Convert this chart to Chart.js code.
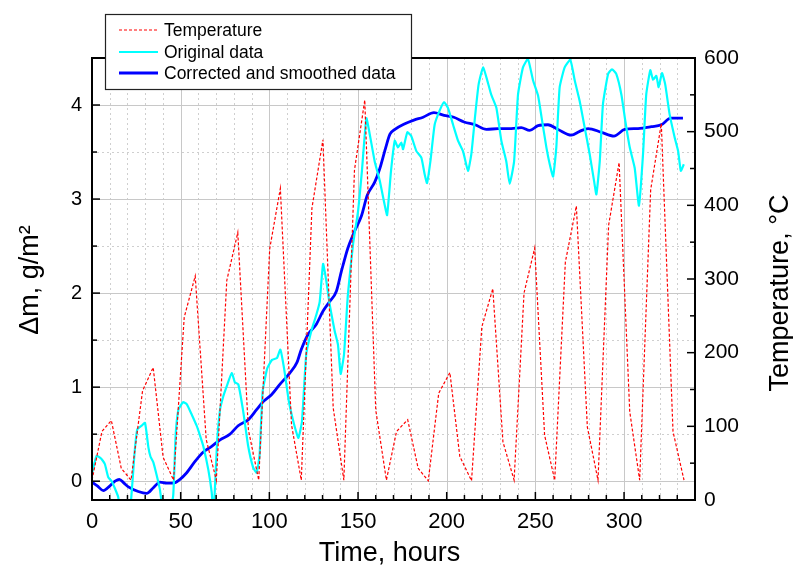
<!DOCTYPE html>
<html><head><meta charset="utf-8">
<script src="https://cdn.jsdelivr.net/npm/chart.js@4.4.0/dist/chart.umd.min.js"></script>
<style>html,body{margin:0;padding:0;background:#fff;}#wrap{width:793px;height:571px;position:relative;}</style>
</head><body><div id="wrap"><canvas id="c" width="793" height="571"></canvas></div>
<script>
// ---- Data ----
const tempTime = [0,5.6,10.9,16.5,22,28.5,34.5,40.1,46,52,58.2,64.4,70.1,76,82.2,88.2,94,100.2,106.2,112.5,118,124,130.2,136,142,148,153.8,160,166,171.7,178,183.9,189.6,195.5,201.8,207.4,214,219.8,226,231.7,238,243.6,249.6,255.2,260.9,266.9,273.1,279.3,285.3,291.3,297.2,303.2,308.8,315,321,327.6,333.8];
const tempC = [27,93,108,43,27,148,180,58,27,248,304,82,27,298,363,95,27,341,423,102,27,396,489,125,27,448,543,122,27,93,109,43,26,145,173,59,26,235,287,79,27,281,342,88,27,323,399,99,27,373,458,120,27,421,511,93,27];

const origTime = [0,1.5,2.6,4.5,6,7.3,9.2,11.1,13,14.8,16.5,20,22,24,25.5,28,29.9,31.8,33,34.6,36.5,38.3,40,44,45.8,47.2,48.7,50.5,51.5,53.4,56.2,59,61,62.8,65.6,67.5,68.2,69,70.5,72.2,74,76,78.8,80.6,82.5,85.2,88,90.8,92.8,94.5,96.2,98.8,101.5,104.3,106.2,108.3,111,114,116.4,118.4,120.8,123.7,126.5,128.4,130.3,132.1,134,136.8,138.7,140.2,142.1,144.3,147.2,150,152.2,154.7,156.6,159.4,162.2,165,166.4,168.6,170.7,172.5,174.4,175.4,177.8,180,182.9,185.7,187.6,188.9,190.8,193.2,196,198.5,200.7,203.6,206.4,209.2,212,213.9,216.1,218,220.5,222.9,225.1,228,230.8,233.6,235.5,238,240.2,243,245.8,248.7,251.5,253.4,256.2,258.1,260,261.8,263.7,266.5,269.7,272.2,275,277.8,280.6,283.1,284.4,286.3,288.1,291,293.2,295.6,298.5,300.7,303.2,306,308.4,310.7,312.5,314.8,316.3,318.2,319.5,321.4,323.2,325.7,328.6,330.5,332,333.7];
const origDm = [0.08,0.2,0.27,0.25,0.22,0.18,0.04,0.0,-0.08,-0.17,-0.4,-0.4,-0.2,0.3,0.55,0.59,0.62,0.36,0.26,0.2,0.06,-0.09,-0.3,-0.3,-0.15,0.5,0.76,0.82,0.84,0.82,0.71,0.59,0.48,0.37,0.12,-0.12,-0.3,-0.2,0.4,0.76,0.9,1.01,1.15,1.05,1.03,0.75,0.38,0.15,0.09,0.28,0.95,1.2,1.29,1.31,1.4,1.2,0.85,0.6,0.46,0.64,1.35,1.6,1.77,1.91,2.31,2.13,1.88,1.6,1.45,1.14,1.35,1.99,2.52,2.87,3.3,3.86,3.69,3.4,3.2,2.94,2.83,3.3,3.62,3.55,3.6,3.53,3.71,3.67,3.51,3.44,3.26,3.17,3.4,3.79,3.94,4.03,3.97,3.79,3.62,3.51,3.3,3.48,3.9,4.22,4.4,4.26,4.11,3.97,3.62,3.4,3.16,3.4,4.11,4.4,4.49,4.26,4.1,3.88,3.55,3.37,3.24,3.55,4.19,4.4,4.48,4.26,4.04,3.76,3.48,3.19,3.05,3.4,4.01,4.33,4.38,4.33,4.11,3.83,3.55,3.33,2.93,3.48,4.11,4.37,4.27,4.31,4.19,4.34,4.22,3.9,3.65,3.51,3.3,3.37];

const smoothTime = [0,3,6.4,10.1,13,15.4,18,20.5,26.1,30.8,34.6,38.3,42.1,45.9,49.6,53.4,58.1,62.8,67.5,72.2,77.8,82.4,88.5,92.8,96.2,101.2,106.4,111.5,115.5,118,121.8,126.5,130.3,134,137.8,140.6,144.3,148.1,151.9,155.2,159.4,162.2,165.5,168,170.8,176.4,181.5,186.7,192.8,198.5,204,209.8,216,222.4,229,236.4,242,246.8,251.5,257.1,262.8,270.3,275,279.7,287.2,294.3,300.4,307.9,315.4,321,326.3,333.2];
const smoothDm = [-0.01,-0.05,-0.1,-0.05,0.0,0.02,-0.02,-0.06,-0.11,-0.13,-0.07,-0.01,-0.02,-0.02,0.02,0.09,0.21,0.31,0.37,0.44,0.5,0.59,0.66,0.76,0.84,0.92,1.04,1.15,1.26,1.4,1.56,1.67,1.81,1.91,2.02,2.23,2.48,2.66,2.82,3.04,3.18,3.32,3.54,3.69,3.74,3.8,3.84,3.87,3.92,3.89,3.87,3.82,3.79,3.74,3.75,3.75,3.76,3.73,3.78,3.79,3.74,3.68,3.72,3.75,3.71,3.67,3.74,3.75,3.77,3.79,3.86,3.86];

const xTickLabels = [0,50,100,150,200,250,300];
const leftTickLabels = [0,1,2,3,4];
const rightTickLabels = [0,100,200,300,400,500,600];
const seriesNames = ['Temperature','Original data','Corrected and smoothed data'];
const xTitle = 'Time, hours';
const yTitle = 'Δm, g/m²';
const y2Title = 'Temperature, °C';

const FONT = '"Liberation Sans", Arial, sans-serif';
const toXY = (xs, ys) => xs.map((x, i) => ({x: x, y: ys[i]}));

const decor = {
  id: 'decor',
  beforeDatasetsDraw(chart) {
    const {ctx, chartArea: a, scales} = chart;
    const sx = scales.x, sy = scales.y;
    ctx.save();
    ctx.lineWidth = 1;
    for (let v = 0; v <= 340; v += 10) {
      const px = Math.round(sx.getPixelForValue(v)) + 0.5;
      if (px <= a.left + 1 || px >= a.right - 1) continue;
      const major = v % 50 === 0;
      ctx.strokeStyle = major ? '#c8c8c8' : '#cfcfcf';
      ctx.setLineDash(major ? [] : [2, 3]);
      ctx.beginPath(); ctx.moveTo(px, a.top); ctx.lineTo(px, a.bottom); ctx.stroke();
    }
    for (let v = 0; v <= 4.5; v += 0.5) {
      const py = Math.round(sy.getPixelForValue(v)) + 0.5;
      if (py <= a.top + 1 || py >= a.bottom - 1) continue;
      const major = Math.abs(v - Math.round(v)) < 1e-6;
      ctx.strokeStyle = major ? '#c8c8c8' : '#cfcfcf';
      ctx.setLineDash(major ? [] : [2, 3]);
      ctx.beginPath(); ctx.moveTo(a.left, py); ctx.lineTo(a.right, py); ctx.stroke();
    }
    ctx.restore();
  },
  afterDatasetsDraw(chart) {
    const {ctx, chartArea: a, scales} = chart;
    const sx = scales.x, sy = scales.y, sy2 = scales.y2;
    ctx.save();
    ctx.setLineDash([]);
    ctx.strokeStyle = '#000';
    ctx.lineWidth = 2;
    ctx.strokeRect(a.left, a.top, a.right - a.left, a.bottom - a.top);
    ctx.lineWidth = 1.5;
    for (let v = 0; v <= 340; v += 10) {
      const px = sx.getPixelForValue(v);
      const len = v % 50 === 0 ? 8 : 5;
      ctx.beginPath(); ctx.moveTo(px, a.bottom); ctx.lineTo(px, a.bottom - len); ctx.stroke();
    }
    for (let v = 0; v <= 4.5; v += 0.5) {
      const py = sy.getPixelForValue(v);
      const len = Math.abs(v - Math.round(v)) < 1e-6 ? 8 : 5;
      ctx.beginPath(); ctx.moveTo(a.left, py); ctx.lineTo(a.left + len, py); ctx.stroke();
    }
    for (let v = 0; v <= 600; v += 50) {
      const py = sy2.getPixelForValue(v);
      const len = v % 100 === 0 ? 8 : 5;
      ctx.beginPath(); ctx.moveTo(a.right, py); ctx.lineTo(a.right - len, py); ctx.stroke();
    }
    ctx.fillStyle = '#000';
    ctx.font = '27px ' + FONT;
    ctx.textAlign = 'center';
    ctx.textBaseline = 'middle';
    ctx.fillText(xTitle, (a.left + a.right) / 2 - 4, 554);
    ctx.save(); ctx.translate(31, 280); ctx.rotate(-Math.PI / 2); ctx.fillText(yTitle, 0, 0); ctx.restore();
    ctx.save(); ctx.translate(781, 293); ctx.rotate(-Math.PI / 2); ctx.fillText(y2Title, 0, 0); ctx.restore();
    const lx = 105, ly = 14, lw = 306, lh = 75;
    ctx.fillStyle = '#fff';
    ctx.fillRect(lx, ly, lw, lh);
    ctx.strokeStyle = '#222';
    ctx.lineWidth = 1.2;
    ctx.strokeRect(lx + 0.5, ly + 0.5, lw, lh);
    const ds = chart.data.datasets;
    const rows = [30, 52, 73];
    ctx.font = '17.5px ' + FONT;
    ctx.textAlign = 'left';
    ctx.textBaseline = 'middle';
    ds.forEach((d, i) => {
      ctx.save();
      ctx.strokeStyle = d.borderColor;
      ctx.lineWidth = d.borderWidth;
      ctx.setLineDash(d.borderDash || []);
      ctx.beginPath(); ctx.moveTo(119, rows[i]); ctx.lineTo(158, rows[i]); ctx.stroke();
      ctx.restore();
      ctx.fillStyle = '#000';
      ctx.fillText(d.label, 164, rows[i] + 1);
    });
    ctx.restore();
  }
};

new Chart(document.getElementById('c'), {
  type: 'line',
  data: {
    datasets: [
      {label: seriesNames[0], data: toXY(tempTime, tempC), yAxisID: 'y2', borderColor: '#ff0000', borderWidth: 1.2, borderDash: [3, 2], pointRadius: 0, tension: 0, fill: false},
      {label: seriesNames[1], data: toXY(origTime, origDm), yAxisID: 'y', borderColor: '#00ffff', borderWidth: 2.2, pointRadius: 0, tension: 0.15, fill: false},
      {label: seriesNames[2], data: toXY(smoothTime, smoothDm), yAxisID: 'y', borderColor: '#0000ff', borderWidth: 2.8, pointRadius: 0, tension: 0.4, cubicInterpolationMode: 'monotone', fill: false}
    ]
  },
  options: {
    responsive: false,
    animation: false,
    devicePixelRatio: 1,
    layout: {padding: {top: 58, left: 0, right: 0, bottom: 0}},
    plugins: {legend: {display: false}, tooltip: {enabled: false}},
    scales: {
      x: {
        type: 'linear', position: 'bottom', min: 0, max: 340,
        grid: {display: false, drawTicks: false}, border: {display: false},
        ticks: {stepSize: 50, includeBounds: false, autoSkip: false, maxRotation: 0, padding: 9, color: '#000',
          font: {family: FONT, size: 22},
          callback: v => xTickLabels.includes(v) ? String(v) : ''},
        afterFit: s => { s.height = 71; }
      },
      y: {
        type: 'linear', position: 'left', min: -0.2, max: 4.5,
        grid: {display: false, drawTicks: false}, border: {display: false},
        ticks: {stepSize: 1, includeBounds: false, autoSkip: false, padding: 10, color: '#000',
          font: {family: FONT, size: 20},
          callback: v => leftTickLabels.includes(v) ? String(v) : ''},
        afterFit: s => { s.width = 92; }
      },
      y2: {
        type: 'linear', position: 'right', min: 0, max: 600,
        grid: {display: false, drawTicks: false}, border: {display: false},
        ticks: {stepSize: 100, includeBounds: false, autoSkip: false, padding: 9, color: '#000',
          font: {family: FONT, size: 21},
          callback: v => rightTickLabels.includes(v) ? String(v) : ''},
        afterFit: s => { s.width = 98; }
      }
    }
  },
  plugins: [decor]
});
</script></body></html>
